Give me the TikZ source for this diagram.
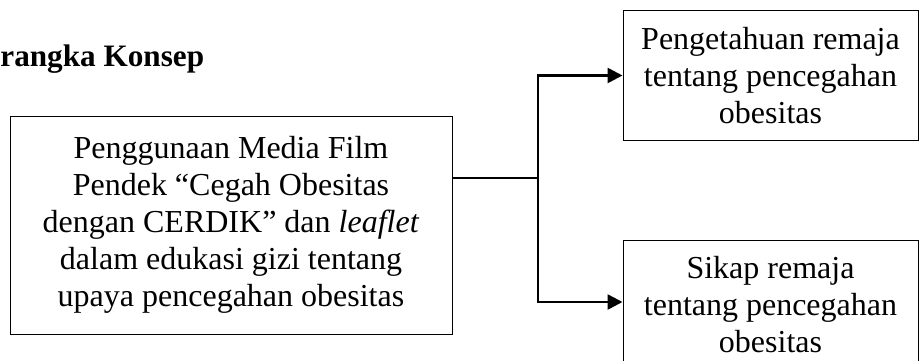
\documentclass[tikz,border=0pt]{standalone}
\usepackage{fontspec}
\setmainfont{Liberation Serif}
\usetikzlibrary{arrows.meta}

\begin{document}
\begin{tikzpicture}[x=0.5pt,y=-0.5pt,
    kotak/.style={draw,line width=0.5pt,align=center,inner sep=0pt,
        font=\fontsize{16}{18.5}\selectfont},
    panah/.style={line width=1.3pt}]
    \useasboundingbox (0,0) rectangle (921,360);
    \node[anchor=base west,inner sep=0pt,font=\fontsize{15.6}{18}\selectfont\bfseries] (judul) at (0,66) {rangka Konsep};
    \node[kotak,minimum width=221pt,minimum height=109pt] (media) at (231,225)
        {Penggunaan Media Film\\ Pendek ``Cegah Obesitas\\ dengan CERDIK'' dan \textit{leaflet}\\ dalam edukasi gizi tentang\\ upaya pencegahan obesitas};
    \node[kotak,minimum width=147.5pt,minimum height=65pt] (pengetahuan) at (770.5,75.5)
        {Pengetahuan remaja\\ tentang pencegahan\\ obesitas};
    \node[kotak,minimum width=147.5pt,minimum height=65pt] (sikap) at (770.5,305)
        {Sikap remaja\\ tentang pencegahan\\ obesitas};
    \coordinate (cabang) at (538,178);
    \draw[panah] (cabang -| media.east) -- (cabang);
    \draw[panah,-{Triangle[length=7.5pt,width=7.5pt]}] (cabang) |- (pengetahuan.west);
    \draw[panah,-{Triangle[length=7.5pt,width=7.5pt]}] (cabang) |- ([yshift=1.5pt]sikap.west);
\end{tikzpicture}
\end{document}
